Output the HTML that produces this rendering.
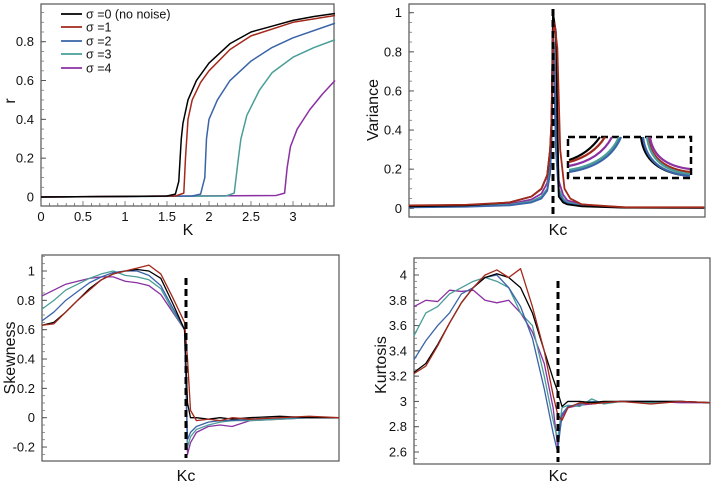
<!DOCTYPE html>
<html><head><meta charset="utf-8">
<style>
html,body{margin:0;padding:0;background:#fff;}
svg{display:block;font-family:"Liberation Sans",Arial,sans-serif;}
</style></head>
<body>
<svg id="fig" width="714" height="485" viewBox="0 0 714 485"></svg>
<script>
// ===== Panel A: order parameter r vs K =====
const rK0=[0,1.5,1.6,1.64,1.67,1.69,1.75,1.85,2.0,2.25,2.5,2.75,3.0,3.25,3.5];
const rV0=[0,0.005,0.015,0.08,0.3,0.38,0.5,0.6,0.69,0.79,0.85,0.88,0.91,0.93,0.945];
const rK1=[0,1.6,1.7,1.72,1.75,1.8,1.9,2.0,2.25,2.5,3.0,3.5];
const rV1=[0,0.005,0.02,0.2,0.4,0.5,0.59,0.65,0.76,0.83,0.9,0.935];
const rK2=[0,1.8,1.9,1.95,1.97,2.0,2.1,2.25,2.5,2.75,3.0,3.5];
const rV2=[0,0.005,0.015,0.1,0.3,0.4,0.5,0.6,0.7,0.77,0.82,0.895];
const rK3=[0,2.2,2.3,2.35,2.38,2.45,2.6,2.75,3.0,3.25,3.5];
const rV3=[0,0.005,0.02,0.2,0.3,0.42,0.55,0.64,0.72,0.77,0.81];
const rK4=[0,2.8,2.9,2.93,2.97,3.05,3.2,3.35,3.5];
const rV4=[0,0.008,0.02,0.15,0.26,0.35,0.45,0.53,0.6];
const rXTicks=[0,0.5,1,1.5,2,2.5,3];
const rXTickLabels=["0","0.5","1","1.5","2","2.5","3"];
const rYTicks=[0,0.2,0.4,0.6,0.8];
const rYTickLabels=["0","0.2","0.4","0.6","0.8"];
const legendLabels=["σ =0 (no noise)","σ =1","σ =2","σ =3","σ =4"];

// ===== Panel B: variance (x in units relative to Kc) =====
const vX0=[-1,-0.6,-0.3,-0.15,-0.08,-0.04,-0.02,-0.01,0,0.02,0.04,0.07,0.1,0.2,0.5,1.05];
const vY0=[0.01,0.015,0.03,0.06,0.1,0.17,0.3,0.45,1.0,0.9,0.06,0.03,0.02,0.01,0.003,0.002];
const vX1=[-1,-0.6,-0.3,-0.15,-0.08,-0.04,-0.02,-0.01,0,0.01,0.03,0.05,0.08,0.12,0.2,0.5,1.05];
const vY1=[0.015,0.018,0.03,0.06,0.1,0.17,0.3,0.45,0.9,0.95,0.82,0.3,0.1,0.05,0.02,0.005,0.005];
const vX2=[-1,-0.6,-0.3,-0.15,-0.08,-0.04,-0.02,-0.01,0,0.02,0.04,0.07,0.1,0.2,0.5,1.05];
const vY2=[0.005,0.008,0.015,0.03,0.05,0.09,0.18,0.35,0.96,0.3,0.08,0.04,0.025,0.012,0.004,0.002];
const vX3=[-1,-0.6,-0.3,-0.15,-0.08,-0.04,-0.02,-0.01,0,0.02,0.04,0.07,0.1,0.2,0.5,0.85];
const vY3=[0.008,0.01,0.018,0.035,0.06,0.1,0.2,0.38,0.97,0.35,0.1,0.05,0.03,0.015,0.005,0.003];
const vX4=[-1,-0.6,-0.3,-0.15,-0.08,-0.04,-0.02,-0.01,0,0.02,0.04,0.07,0.1,0.2,0.35];
const vY4=[0.01,0.012,0.022,0.045,0.075,0.13,0.25,0.42,0.98,0.45,0.14,0.07,0.04,0.02,0.01];
const vYTicks=[0,0.2,0.4,0.6,0.8,1];
const vYTickLabels=["0","0.2","0.4","0.6","0.8","1"];

// ===== Panel C: skewness (x 0..100, Kc=48.5) =====
const sX=[0,4,8,12,16,20,24,28,32,36,40,44,48,49,50,52,56,60,64,70,80,90,100];
const s0=[0.63,0.65,0.72,0.8,0.88,0.94,0.98,1.0,1.01,1.0,0.95,0.78,0.6,0.1,0.0,0.0,-0.01,0.0,-0.01,0.0,0.01,0.0,0.0];
const s1=[0.63,0.64,0.72,0.8,0.87,0.94,0.98,1.0,1.02,1.04,0.98,0.82,0.65,0.4,0.05,-0.02,-0.01,-0.02,0.0,-0.01,0.0,0.01,0.0];
const s2=[0.66,0.72,0.8,0.86,0.92,0.96,0.99,1.0,1.0,0.97,0.9,0.75,0.6,-0.15,-0.1,-0.06,-0.03,-0.02,-0.02,-0.01,0.0,0.0,0.0];
const s3=[0.74,0.8,0.87,0.91,0.95,0.98,1.0,0.97,0.96,0.94,0.88,0.73,0.6,-0.2,-0.13,-0.08,-0.05,-0.03,-0.02,-0.02,-0.01,0.0,0.0];
const s4=[0.83,0.87,0.91,0.93,0.95,0.96,0.96,0.93,0.92,0.9,0.84,0.72,0.6,-0.25,-0.17,-0.1,-0.06,-0.05,-0.06,-0.02,-0.01,0.0,0.0];
const sYTicks=[-0.2,0,0.2,0.4,0.6,0.8,1];
const sYTickLabels=["-0.2","0","0.2","0.4","0.6","0.8","1"];

// ===== Panel D: kurtosis (x 0..100, Kc=48.6) =====
const kX=[0,4,8,12,16,20,24,28,32,36,40,44,47,48.5,50,52,56,60,64,70,80,90,100];
const k0=[3.23,3.3,3.45,3.62,3.78,3.9,3.98,4.01,3.98,3.9,3.7,3.4,3.18,3.08,2.96,3.0,3.0,2.99,3.0,3.0,3.0,3.0,2.99];
const k1=[3.22,3.28,3.44,3.62,3.78,3.9,4.0,4.04,3.98,4.05,3.75,3.4,3.05,2.9,2.85,2.95,2.99,2.98,2.99,3.0,2.98,3.0,2.99];
const k2=[3.33,3.48,3.6,3.7,3.85,3.9,3.98,4.0,3.9,3.75,3.5,3.1,2.75,2.6,2.9,2.96,2.98,3.0,2.99,3.0,3.0,3.0,2.99];
const k3=[3.52,3.7,3.75,3.85,3.9,3.95,3.98,3.95,3.9,3.7,3.6,3.2,2.85,2.7,2.95,2.97,2.96,3.02,2.98,3.0,2.99,3.0,2.99];
const k4=[3.75,3.8,3.79,3.88,3.87,3.88,3.8,3.78,3.8,3.7,3.55,3.3,2.95,2.65,2.88,2.95,2.97,2.98,2.99,3.0,3.0,2.99,2.99];
const kYTicks=[2.6,2.8,3,3.2,3.4,3.6,3.8,4];
const kYTickLabels=["2.6","2.8","3","3.2","3.4","3.6","3.8","4"];

const colors=["#000000","#a3291b","#3a64a8","#4a9e98","#8b30a2"];
const NS="http://www.w3.org/2000/svg";
const fig=document.getElementById('fig');
function el(tag,attrs,parent){const e=document.createElementNS(NS,tag);for(const k in attrs)e.setAttribute(k,attrs[k]);(parent||fig).appendChild(e);return e;}
function lin(d0,d1,r0,r1){return v=>r0+(v-d0)*(r1-r0)/(d1-d0);}
function drawLine(xs,ys,sx,sy,color,w,name,g){
  let d="";for(let i=0;i<xs.length;i++)d+=(i?"L":"M")+sx(xs[i]).toFixed(2)+","+sy(ys[i]).toFixed(2);
  const p=el('path',{d:d,fill:'none',stroke:color,'stroke-width':w,'stroke-linejoin':'round'},g);
  
  
  return p;
}
function panel(name,L,R,T,B,sy,yTicks,yLabels,minorStep,yMin,yMax){
  const g=el('g',{});
  
  
  const box=el('rect',{x:L,y:T,width:R-L,height:B-T,fill:'none',stroke:'#555','stroke-width':1.2},g);
  
  
  for(let v=yMin;v<=yMax+1e-9;v+=minorStep){const y=sy(v);if(y<T||y>B)continue;
    el('line',{x1:L,x2:L+3,y1:y,y2:y,stroke:'#777','stroke-width':0.8},g);}
  yTicks.forEach((v,i)=>{const y=sy(v);
    el('line',{x1:L,x2:L+5,y1:y,y2:y,stroke:'#555','stroke-width':1},g);
    const t=el('text',{x:L-7,y:y+4.5,'text-anchor':'end','font-size':13,fill:'#111'},g);
    t.textContent=yLabels[i];
    
    
  });
  return g;
}
function label(txt,x,y,name,rot,size){
  const t=el('text',{x:x,y:y,'text-anchor':'middle','font-size':size||16,fill:'#111'});
  if(rot)t.setAttribute('transform','rotate(-90 '+x+' '+y+')');
  t.textContent=txt;
  
  
}
function dashV(x,y1,y2,name){
  const l=el('line',{x1:x,x2:x,y1:y1,y2:y2,stroke:'#000','stroke-width':3,'stroke-dasharray':'7,4'});
  
  
}

// Panel A
(function(){
  const L=41,R=334,T=4,B=206;
  const sx=lin(0,3.5,41,335),sy=lin(0,0.8,197,41.7);
  const g=panel('panel-order-parameter',L,R,T,B,sy,rYTicks,rYTickLabels,0.05,-0.05,1);
  for(let v=0;v<=3.5;v+=0.1){const x=sx(v);el('line',{x1:x,x2:x,y1:B,y2:B-(Math.abs(v*2-Math.round(v*2))<1e-6?5:3),stroke:'#666','stroke-width':0.8},g);}
  rXTicks.forEach((v,i)=>{const t=el('text',{x:sx(v),y:B+15,'text-anchor':'middle','font-size':13,fill:'#111'},g);t.textContent=rXTickLabels[i];
    
    });
  const Ks=[rK0,rK1,rK2,rK3,rK4],Vs=[rV0,rV1,rV2,rV3,rV4];
  for(let i=4;i>=0;i--)drawLine(Ks[i],Vs[i],sx,sy,colors[i],1.5,'r-curve-sigma-'+i,g);
  const lg=el('g',{},g);
  
  
  const rows=[14,27,41,54,68];
  legendLabels.forEach((s,i)=>{
    el('line',{x1:61,x2:82,y1:rows[i],y2:rows[i],stroke:colors[i],'stroke-width':1.8},lg);
    const t=el('text',{x:86,y:rows[i]+4.5,'font-size':12.5,fill:'#111'},lg);t.textContent=s;
    
    
  });
  label('K',188,235,'x-axis-title');
  label('r',15,101,'y-axis-title',true);
})();

// Panel B
(function(){
  const L=409,R=705,T=4,B=217;
  const sx=lin(0,1,553,697),sy=lin(0,1,208.3,12.7);
  const g=panel('panel-variance',L,R,T,B,sy,vYTicks,vYTickLabels,0.05,-0.05,1.05);
  const Xs=[vX0,vX1,vX2,vX3,vX4],Ys=[vY0,vY1,vY2,vY3,vY4];
  const order=[4,3,2,0,1];
  order.forEach(i=>drawLine(Xs[i],Ys[i],sx,sy,colors[i],1.8,'variance-curve-sigma-'+i,g));
  dashV(553,9,216,'kc-marker');
  // inset
  const ib=el('rect',{x:568,y:137,width:123,height:41,fill:'none',stroke:'#000','stroke-width':2.5,'stroke-dasharray':'7,4'},g);
  
  
  const leftStartY=[160,162,172,170,166],leftEndX=[600,605,621,619,612];
  const rightStartX=[641,648,643,647,650],rightEndY=[176,172,176,174,169];
  [0,1,4,3,2].forEach(i=>{
    const p1=el('path',{d:'M569,'+leftStartY[i]+' Q'+(leftEndX[i]-12)+','+(leftStartY[i]-6)+' '+leftEndX[i]+',137',fill:'none',stroke:colors[i],'stroke-width':2.2},g);
    
    
    const p2=el('path',{d:'M'+rightStartX[i]+',137 Q'+(rightStartX[i]+4)+','+(rightEndY[i]-4)+' 690,'+rightEndY[i],fill:'none',stroke:colors[i],'stroke-width':2.2},g);
    
    
  });
  label('Kc',558,235,'x-axis-title');
  label('Variance',378,110,'y-axis-title',true);
})();

// Panel C
(function(){
  const L=42,R=339,T=255,B=461;
  const sx=lin(0,100,42,339),sy=lin(0,1,417.7,271);
  const g=panel('panel-skewness',L,R,T,B,sy,sYTicks,sYTickLabels,0.05,-0.3,1.1);
  const Ys=[s0,s1,s2,s3,s4];
  [4,3,2,0,1].forEach(i=>drawLine(sX,Ys[i],sx,sy,colors[i],1.3,'skewness-curve-sigma-'+i,g));
  dashV(186,278,458,'kc-marker');
  label('Kc',186,481,'x-axis-title');
  label('Skewness',15,358,'y-axis-title',true);
})();

// Panel D
(function(){
  const L=414,R=710,T=258,B=464;
  const sx=lin(0,100,414,710),sy=lin(2.6,4,452,275);
  const g=panel('panel-kurtosis',L,R,T,B,sy,kYTicks,kYTickLabels,0.05,2.5,4.15);
  const Ys=[k0,k1,k2,k3,k4];
  [4,3,2,0,1].forEach(i=>drawLine(kX,Ys[i],sx,sy,colors[i],1.3,'kurtosis-curve-sigma-'+i,g));
  dashV(558,281,462,'kc-marker');
  label('Kc',558,481,'x-axis-title');
  label('Kurtosis',386,365,'y-axis-title',true);
})();
</script>
</body></html>
